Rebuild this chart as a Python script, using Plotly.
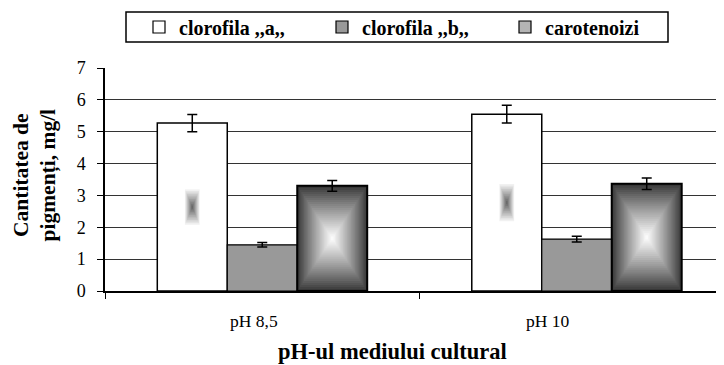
import plotly.graph_objects as go

# ---- data ----
categories = ["pH 8,5", "pH 10"]
series_names = ["clorofila ,,a,,", "clorofila ,,b,,", "carotenoizi"]
clorofila_a = [5.27, 5.55]
clorofila_a_err = [0.27, 0.28]
clorofila_b = [1.45, 1.63]
clorofila_b_err = [0.07, 0.09]
carotenoizi = [3.30, 3.37]
carotenoizi_err = [0.17, 0.18]
y_ticks = [0, 1, 2, 3, 4, 5, 6, 7]

FONT = "Liberation Serif"
OFF = 8  # page body margin of the browser
PL, PT, PB, PR = 105, 68, 291, 724  # plot area in window pixels
PW, PH = PR - PL, PB - PT


def px(xw):
    return (xw - PL) / PW


def py(yw):
    return (PB - yw) / PH


xs = list(range(len(categories)))
BW = 0.2225
offsets = [-1.5 * BW, -0.5 * BW, 0.5 * BW]


def shade(t0, t1, f):
    c = int(round(t0 + (t1 - t0) * f))
    return f"rgb({c},{c},{c})"


fig = go.Figure()

fig.add_trace(go.Bar(
    x=xs, y=clorofila_a, name=series_names[0], width=BW, offset=offsets[0],
    marker=dict(color="rgba(0,0,0,0)", line=dict(color="black", width=1.5)),
    error_y=dict(type="data", array=clorofila_a_err, color="black", thickness=1.5, width=5),
    showlegend=False,
))
fig.add_trace(go.Bar(
    x=xs, y=clorofila_b, name=series_names[1], width=BW, offset=offsets[1],
    marker=dict(color="#999999", line=dict(color="black", width=1.2)),
    error_y=dict(type="data", array=clorofila_b_err, color="black", thickness=1.5, width=5),
    showlegend=False,
))
fig.add_trace(go.Bar(
    x=xs, y=carotenoizi, name=series_names[2], width=BW, offset=offsets[2],
    marker=dict(color="rgba(0,0,0,0)", line=dict(color="black", width=2)),
    error_y=dict(type="data", array=carotenoizi_err, color="black", thickness=1.5, width=5),
    showlegend=False,
))

legend_colors = ["white", "#999999", "#b4b4b4"]
for name, col in zip(series_names, legend_colors):
    fig.add_trace(go.Bar(x=[None], y=[None], name=f"<b>{name}</b>",
                         marker=dict(color=col, line=dict(color="black", width=1.2))))

shapes = []
N = 26
for i, x in enumerate(xs):
    v = clorofila_a[i]
    xc = x + offsets[0] + BW / 2
    shapes.append(dict(type="rect", xref="x", yref="y", layer="between",
                       x0=xc - BW / 2, x1=xc + BW / 2, y0=0, y1=v,
                       fillcolor="white", line=dict(width=0)))
    M = 12
    for k in range(M):
        f = 0.77 + 0.23 * k / M
        s = 1 - f
        shapes.append(dict(type="rect", xref="x", yref="y", layer="between",
                           x0=xc - BW / 2 * s, x1=xc + BW / 2 * s,
                           y0=v / 2 - v / 2 * s, y1=v / 2 + v / 2 * s,
                           fillcolor=shade(255, 105, k / (M - 1)), line=dict(width=0)))
    v = carotenoizi[i]
    xc = x + offsets[2] + BW / 2
    for k in range(N):
        f = k / N
        s = 1 - f
        shapes.append(dict(type="rect", xref="x", yref="y", layer="between",
                           x0=xc - BW / 2 * s, x1=xc + BW / 2 * s,
                           y0=v / 2 - v / 2 * s, y1=v / 2 + v / 2 * s,
                           fillcolor=shade(55, 250, (k / (N - 1)) ** 0.9), line=dict(width=0)))

# legend frame
shapes.append(dict(type="rect", xref="paper", yref="paper", layer="above",
                   x0=px(126), x1=px(668), y0=py(42), y1=py(12),
                   line=dict(color="black", width=1.5), fillcolor="rgba(0,0,0,0)"))

annotations = []
label_shift = [-8, -29]
for x, lab, sh in zip(xs, categories, label_shift):
    annotations.append(dict(x=x, y=0, xref="x", yref="paper", text=lab, showarrow=False,
                            xshift=sh, yshift=-30, yanchor="middle",
                            font=dict(family=FONT, size=17.5, color="black")))
annotations.append(dict(x=px(392.5), y=0, xref="paper", yref="paper",
                        text="<b>pH-ul mediului cultural</b>", showarrow=False,
                        yshift=-60, yanchor="middle",
                        font=dict(family=FONT, size=22.5, color="black")))
annotations.append(dict(x=px(35), y=py(175.5), xref="paper", yref="paper",
                        text="<b>Cantitatea de<br>pigmenți, mg/l</b>", showarrow=False,
                        textangle=-90, xanchor="center", yanchor="middle",
                        font=dict(family=FONT, size=21.5, color="black")))

fig.update_layout(
    width=724 - OFF, height=365 - OFF,
    margin=dict(l=PL - OFF, r=0, t=PT - OFF, b=365 - PB, autoexpand=False),
    paper_bgcolor="white", plot_bgcolor="white",
    barmode="overlay",
    font=dict(family=FONT, color="black"),
    shapes=shapes,
    annotations=annotations,
    legend=dict(orientation="h", x=px(139), xanchor="left",
                y=py(27), yanchor="middle",
                borderwidth=0, bgcolor="rgba(0,0,0,0)",
                font=dict(family=FONT, size=20, color="black"),
                entrywidth=138, entrywidthmode="pixels", traceorder="normal",
                itemclick=False),
    xaxis=dict(range=[-0.5, 1.5 - 10 / 314.7], tickvals=[-0.5, 0.5, 1.5],
               ticktext=["", "", ""], ticks="outside", ticklen=6, tickcolor="black",
               showgrid=False, zeroline=False, showline=True, linecolor="black",
               linewidth=1.5, fixedrange=True),
    yaxis=dict(range=[0, 7], tickvals=y_ticks, ticks="outside", ticklen=6,
               tickcolor="black", showgrid=True, gridcolor="#333333", gridwidth=1,
               zeroline=False, showline=True, linecolor="black", linewidth=1.5,
               ticklabelstandoff=8,
               tickfont=dict(family=FONT, size=18, color="black"), fixedrange=True),
)

fig.write_html("out.html")
